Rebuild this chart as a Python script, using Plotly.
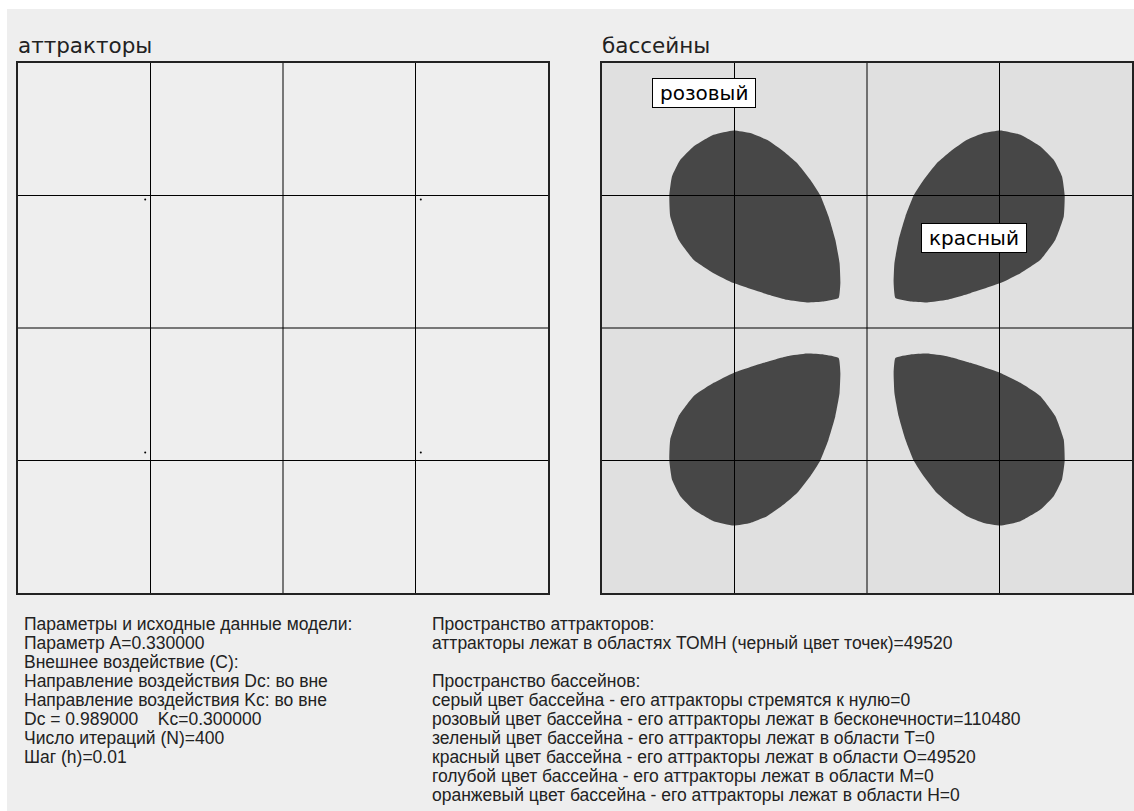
import plotly.graph_objects as go

W, H = 1134, 811

# ---------------- data ----------------
axis_range = [-2, 2]
grid_ticks = [-1, 0, 1]

# attractor points (left panel)
attr_x = [-1.04, 1.04, -1.04, 1.04]
attr_y = [0.97, 0.97, -0.94, -0.94]

# outline of the upper-left basin lobe (others are mirror images)
lobe_x = [-1.007, -0.881, -0.755, -0.629, -0.528, -0.428, -0.352, -0.290, -0.239,
          -0.207, -0.201, -0.214, -0.328, -0.453, -0.604, -0.780, -1.007, -1.158,
          -1.309, -1.422, -1.485, -1.492, -1.472, -1.409, -1.309, -1.158, -1.007]
lobe_y = [1.491, 1.471, 1.420, 1.332, 1.245, 1.118, 1.000, 0.842, 0.666,
          0.490, 0.339, 0.226, 0.200, 0.193, 0.213, 0.263, 0.339, 0.414,
          0.515, 0.666, 0.842, 1.000, 1.143, 1.269, 1.370, 1.458, 1.491]
mirror_sx = [1, -1, 1, -1]
mirror_sy = [1, 1, -1, -1]

label_text = ["розовый", "красный"]
label_x = [-1.232, 0.808]
label_y = [1.771, 0.679]

titles = ["аттракторы", "бассейны"]

params_lines = [
    "Параметры и исходные данные модели:",
    "Параметр A=0.330000",
    "Внешнее воздействие (C):",
    "Направление воздействия Dc: во вне",
    "Направление воздействия Kc: во вне",
    "Dc = 0.989000&nbsp;&nbsp;&nbsp;&nbsp;Kc=0.300000",
    "Число итераций (N)=400",
    "Шаг (h)=0.01",
]
space_lines = [
    "Пространство аттракторов:",
    "аттракторы лежат в областях ТОМН (черный цвет точек)=49520",
    "",
    "Пространство бассейнов:",
    "серый цвет бассейна - его аттракторы стремятся к нулю=0",
    "розовый цвет бассейна - его аттракторы лежат в бесконечности=110480",
    "зеленый цвет бассейна - его аттракторы лежат в области T=0",
    "красный цвет бассейна - его аттракторы лежат в области O=49520",
    "голубой цвет бассейна - его аттракторы лежат в области M=0",
    "оранжевый цвет бассейна - его аттракторы лежат в области H=0",
]

# ---------------- layout geometry (pixels) ----------------
L_X0, L_X1 = 18, 548
R_X0, R_X1 = 602, 1132
P_Y0, P_Y1 = 63, 593
PAGE_BG = "#eeeeee"
BASIN_BG = "#e0e0e0"
LOBE = "#474747"
TITLE_FONT = "DejaVu Sans"
TEXT_FONT = "Liberation Sans"
PAD = "\u2005"

def px(x):
    return x / W

def py(y):
    return 1 - y / H

fig = go.Figure()

# attractor dots
fig.add_trace(go.Scatter(x=attr_x, y=attr_y, mode="markers", xaxis="x", yaxis="y",
                         marker=dict(color="black", size=2), hoverinfo="skip",
                         showlegend=False))

# basin lobes
for sx, sy in zip(mirror_sx, mirror_sy):
    fig.add_trace(go.Scatter(x=[v * sx for v in lobe_x], y=[v * sy for v in lobe_y],
                             mode="lines", fill="toself", fillcolor=LOBE,
                             line=dict(width=0, color=LOBE, shape="spline", smoothing=0.4),
                             xaxis="x2", yaxis="y2", hoverinfo="skip", showlegend=False))

ax_common = dict(range=axis_range, showgrid=False, zeroline=False, showticklabels=False,
                 ticks="", showline=True, mirror=True, linecolor="#222222", linewidth=1.5,
                 fixedrange=True)

fig.update_layout(
    width=W, height=H, margin=dict(l=0, r=0, t=0, b=0),
    paper_bgcolor="white", plot_bgcolor=PAGE_BG, showlegend=False,
    xaxis=dict(domain=[px(L_X0), px(L_X1)], anchor="y", **ax_common),
    yaxis=dict(domain=[py(P_Y1), py(P_Y0)], anchor="x", **ax_common),
    xaxis2=dict(domain=[px(R_X0), px(R_X1)], anchor="y2", **ax_common),
    yaxis2=dict(domain=[py(P_Y1), py(P_Y0)], anchor="x2", **ax_common),
)

shapes = []
# page gray background
shapes.append(dict(type="rect", xref="paper", yref="paper", x0=px(7), x1=1, y0=0, y1=py(9),
                   fillcolor=PAGE_BG, line=dict(width=0), layer="below"))
# basin panel background
shapes.append(dict(type="rect", xref="x2 domain", yref="y2 domain", x0=0, x1=1, y0=0, y1=1,
                   fillcolor=BASIN_BG, line=dict(width=0), layer="below"))
# grid lines above traces
for xa, ya in (("x", "y"), ("x2", "y2")):
    for t in grid_ticks:
        shapes.append(dict(type="line", xref=xa, yref=f"{ya} domain", x0=t, x1=t, y0=0, y1=1,
                           line=dict(color="black", width=1), layer="above"))
        shapes.append(dict(type="line", xref=f"{xa} domain", yref=ya, x0=0, x1=1, y0=t, y1=t,
                           line=dict(color="black", width=1), layer="above"))
fig.update_layout(shapes=shapes)

ann = []
for t, x0 in zip(titles, (L_X0 - 2, R_X0 - 2)):
    ann.append(dict(text=t, xref="paper", yref="paper", x=px(x0), y=py(46),
                    xanchor="left", yanchor="middle", showarrow=False,
                    font=dict(family=TITLE_FONT, size=21.5, color="#222222")))
for t, x, y in zip(label_text, label_x, label_y):
    ann.append(dict(text=PAD + t + PAD, xref="x2", yref="y2", x=x, y=y, showarrow=False,
                    xanchor="center", yanchor="middle",
                    font=dict(family=TITLE_FONT, size=20, color="black"),
                    bgcolor="white", bordercolor="black", borderwidth=1, borderpad=2))

LINE = 19.0
TOP = 624
TEXT_SIZE = 17.5
for i, t in enumerate(params_lines):
    ann.append(dict(text=t, xref="paper", yref="paper", x=px(22), y=py(TOP + i * LINE),
                    xanchor="left", yanchor="middle", showarrow=False,
                    font=dict(family=TEXT_FONT, size=TEXT_SIZE, color="#222222")))
for i, t in enumerate(space_lines):
    if not t:
        continue
    ann.append(dict(text=t, xref="paper", yref="paper", x=px(430), y=py(TOP + i * LINE),
                    xanchor="left", yanchor="middle", showarrow=False,
                    font=dict(family=TEXT_FONT, size=TEXT_SIZE, color="#222222")))
fig.update_layout(annotations=ann)

fig.write_html("out.html", config=dict(displayModeBar=False))
